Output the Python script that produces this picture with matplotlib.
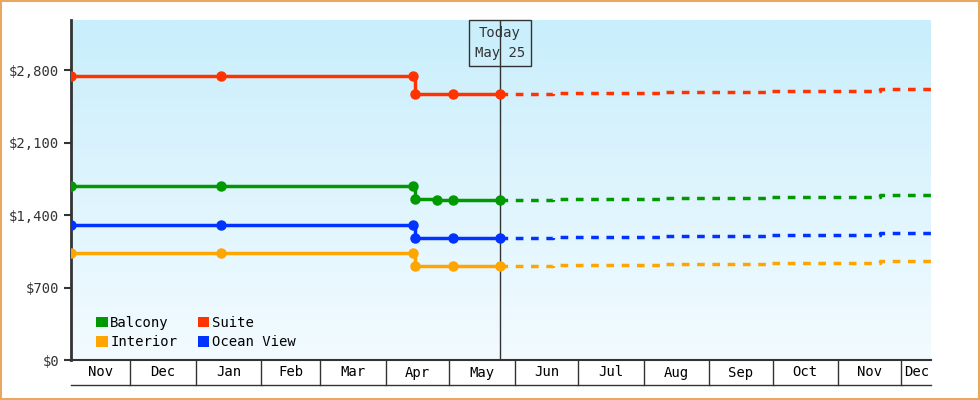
import matplotlib.pyplot as plt
import matplotlib.dates as mdates
import matplotlib.transforms as mtrans
from matplotlib.patches import Patch, Rectangle
from matplotlib.colors import LinearSegmentedColormap
import numpy as np

plt.rcParams['font.family'] = 'DejaVu Sans Mono'
plt.rcParams['font.size'] = 10

# observed prices (solid) and projected prices (dashed)
obs_dates = {
    "Balcony": ["2024-11-03", "2025-01-13", "2025-04-14", "2025-04-15", "2025-04-25", "2025-05-03", "2025-05-25"],
    "Suite": ["2024-11-03", "2025-01-13", "2025-04-14", "2025-04-15", "2025-05-03", "2025-05-25"],
    "Interior": ["2024-11-03", "2025-01-13", "2025-04-14", "2025-04-15", "2025-05-03", "2025-05-25"],
    "Ocean View": ["2024-11-03", "2025-01-13", "2025-04-14", "2025-04-15", "2025-05-03", "2025-05-25"],
}
obs_values = {
    "Balcony": [1680, 1682, 1682, 1554, 1545, 1545, 1545],
    "Suite": [2741, 2745, 2745, 2568, 2570, 2570],
    "Interior": [1033, 1033, 1033, 907, 910, 910],
    "Ocean View": [1303, 1303, 1303, 1178, 1180, 1180],
}
proj_dates = ["2025-05-25", "2025-06-19", "2025-08-10", "2025-09-30", "2025-11-21", "2025-12-15"]
proj_values = {
    "Balcony": [1545, 1555, 1565, 1575, 1590, 1590],
    "Suite": [2570, 2580, 2590, 2600, 2615, 2615],
    "Interior": [910, 920, 930, 940, 955, 955],
    "Ocean View": [1180, 1190, 1200, 1210, 1225, 1225],
}
colors = {"Balcony": "#009900", "Suite": "#ff3300", "Interior": "#ffa500", "Ocean View": "#0033ff"}
month_starts = ["2024-11-03", "2024-12-01", "2025-01-01", "2025-02-01", "2025-03-01", "2025-04-01",
                "2025-05-01", "2025-06-01", "2025-07-01", "2025-08-01", "2025-09-01", "2025-10-01",
                "2025-11-01", "2025-12-01", "2025-12-15"]
month_labels = ["Nov", "Dec", "Jan", "Feb", "Mar", "Apr", "May", "Jun", "Jul", "Aug", "Sep", "Oct", "Nov", "Dec"]
yticks = [0, 700, 1400, 2100, 2800]
today = "2025-05-25"

def d(s):
    return mdates.date2num(np.datetime64(s))

fig = plt.figure(figsize=(9.8, 4), dpi=100)
fig.patch.set_facecolor("white")
fig.add_artist(Rectangle((0.001, 0.002), 0.998, 0.996, transform=fig.transFigure,
                         fill=False, edgecolor="#e8a860", linewidth=1.5))
ax = fig.add_axes([71 / 980, 40 / 400, 860 / 980, 340 / 400])

x0, x1 = d(month_starts[0]), d(month_starts[-1])
ax.set_xlim(x0, x1)
ax.set_ylim(0, 3283)

# gradient background
grad = np.linspace(0, 1, 256).reshape(-1, 1)
cmap = LinearSegmentedColormap.from_list("bg", ["#f3fbff", "#c9eefc"])
ax.imshow(grad, aspect="auto", cmap=cmap, origin="lower", extent=[x0, x1, 0, 3283], zorder=0)

for name in ["Suite", "Balcony", "Ocean View", "Interior"]:
    xs = [d(s) for s in obs_dates[name]]
    ax.plot(xs, obs_values[name], drawstyle="steps-post", color=colors[name], lw=2.5, zorder=3)
    ax.plot(xs, obs_values[name], "o", color=colors[name], ms=6.5, zorder=4)
    px = [d(s) for s in proj_dates]
    ax.plot(px, proj_values[name], drawstyle="steps-post", color=colors[name], lw=2.5,
            dashes=(2.2, 2.2), zorder=3)

# today line and label
tx = d(today)
ax.axvline(tx, color="#333333", lw=1, zorder=2)
ax.text(tx, 3060, "Today\nMay 25", ha="center", va="center", fontsize=10, color="#333333",
        linespacing=1.5, zorder=5,
        bbox=dict(boxstyle="square,pad=0.45", facecolor="none", edgecolor="#333333", lw=1))

ax.set_yticks(yticks)
ax.set_yticklabels(["${:,}".format(v) for v in yticks], color="#333333")
ax.tick_params(axis="y", length=5, width=1.5, color="#333333")
ax.set_xticks([])
for s in ["top", "right"]:
    ax.spines[s].set_visible(False)
ax.spines["left"].set_linewidth(2)
ax.spines["left"].set_color("#333333")
ax.spines["bottom"].set_linewidth(1.5)
ax.spines["bottom"].set_color("#333333")

# month cells below axis
tr = mtrans.blended_transform_factory(ax.transData, ax.transAxes)
cell_h = 25 / 340
for i, lab in enumerate(month_labels):
    a, b = d(month_starts[i]), d(month_starts[i + 1])
    ax.text((a + b) / 2, -cell_h / 2, lab, transform=tr, ha="center", va="center", fontsize=10)
for s in month_starts[1:-1]:
    ax.plot([d(s), d(s)], [0, -cell_h], transform=tr, color="#333333", lw=1, clip_on=False)
ax.plot([x0, x1], [-cell_h, -cell_h], transform=tr, color="#333333", lw=1, clip_on=False)

order = ["Balcony", "Interior", "Suite", "Ocean View"]
handles = [Patch(facecolor=colors[n], label=n) for n in order]
ax.legend(handles=handles, ncol=2, loc="lower left", frameon=False, handlelength=0.8,
          handleheight=0.8, handletextpad=0.2, columnspacing=1.5, labelspacing=0.4,
          bbox_to_anchor=(0.015, -0.005), fontsize=10)

fig.savefig("out.png", dpi=100)
